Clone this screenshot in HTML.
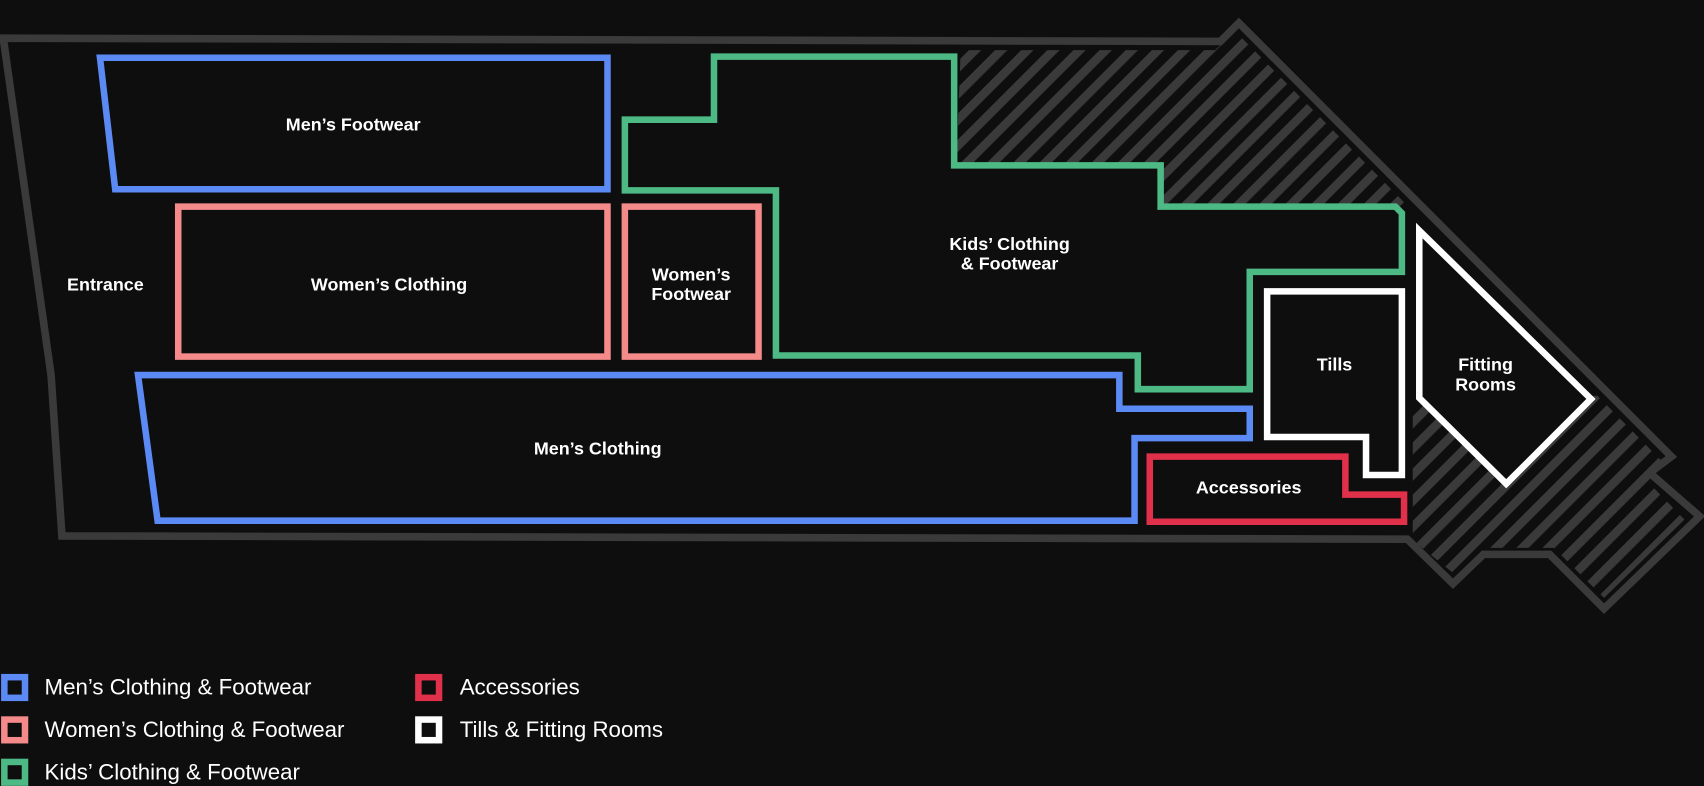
<!DOCTYPE html>
<html><head><meta charset="utf-8"><style>
html,body{margin:0;padding:0;background:#0e0e0e;}
svg{display:block}
text{font-family:"Liberation Sans",sans-serif;fill:#fff;font-weight:bold;}
</style></head><body>
<svg width="1704" height="786" viewBox="0 0 1568 723" xmlns="http://www.w3.org/2000/svg">
<defs>
<pattern id="h" patternUnits="userSpaceOnUse" width="17" height="17" patternTransform="rotate(45)">
<rect x="0" y="0" width="8" height="17" fill="#3a3a3a"/>
</pattern>
</defs>
<rect width="1568" height="723" fill="#0e0e0e"/>
<polygon points="884,46 1118,46 1137,29 1296,190 1068,190 1068,152 880,152" fill="url(#h)"/>
<polygon points="1300,372 1300,497 1337,527 1362,504 1430,504 1476,550 1550,478 1518,445 1533,428 1470,364" fill="url(#h)"/>
<polygon points="3,35 1123,38 1140,21 1538,420 1518,435 1564,475 1476,560 1426,510 1365,510 1337,537 1295,496 57,493 47,345" fill="none" stroke="#3a3a3a" stroke-width="7" stroke-linejoin="miter"/>
<g stroke-width="6" fill="#0e0e0e" stroke-linejoin="miter">
<polygon points="92,53 559,53 559,174 106,174" stroke="#5b8af5"/>
<rect x="164" y="190" width="395" height="138" stroke="#f58a8a"/>
<rect x="575" y="190" width="123" height="138" stroke="#f58a8a"/>
<polygon points="127,345 1030,345 1030,376 1150,376 1150,403 1044,403 1044,479 145,479" stroke="#5b8af5"/>
<polygon points="575,110 657,110 657,52 878,52 878,152 1068,152 1068,190 1284,190 1290,196 1290,250 1150,250 1150,358 1047,358 1047,327 714,327 714,175 575,175" stroke="#4dba85"/>
<polygon points="1166,268 1290,268 1290,437 1257,437 1257,402 1166,402" stroke="#fff"/>
<polygon points="1306,212 1464,367 1386,445 1306,366" stroke="#fff"/>
<polygon points="1058,420 1238,420 1238,455 1292,455 1292,480 1058,480" stroke="#e0304a"/>
</g>
<g font-size="16.5" text-anchor="middle">
<text x="325" y="120">Men’s Footwear</text>
<text x="358" y="267">Women’s Clothing</text>
<text x="97" y="267">Entrance</text>
<text x="636" y="258">Women’s</text>
<text x="636" y="276">Footwear</text>
<text x="550" y="418">Men’s Clothing</text>
<text x="929" y="230">Kids’ Clothing</text>
<text x="929" y="248">&amp; Footwear</text>
<text x="1228" y="341">Tills</text>
<text x="1367" y="341">Fitting</text>
<text x="1367" y="359">Rooms</text>
<text x="1149" y="454">Accessories</text>
</g>
<g stroke-width="6" fill="#0e0e0e">
<rect x="4" y="623" width="19" height="19" stroke="#5b8af5"/>
<rect x="4" y="662" width="19" height="19" stroke="#f58a8a"/>
<rect x="4" y="701" width="19" height="19" stroke="#4dba85"/>
<rect x="385" y="623" width="19" height="19" stroke="#e0304a"/>
<rect x="385" y="662" width="19" height="19" stroke="#fff"/>
</g>
<g font-size="20.5">
<text x="41" y="639" font-weight="normal" style="font-weight:normal">Men’s Clothing &amp; Footwear</text>
<text x="41" y="678" style="font-weight:normal">Women’s Clothing &amp; Footwear</text>
<text x="41" y="717" style="font-weight:normal">Kids’ Clothing &amp; Footwear</text>
<text x="423" y="639" style="font-weight:normal">Accessories</text>
<text x="423" y="678" style="font-weight:normal">Tills &amp; Fitting Rooms</text>
</g>
</svg>
</body></html>
